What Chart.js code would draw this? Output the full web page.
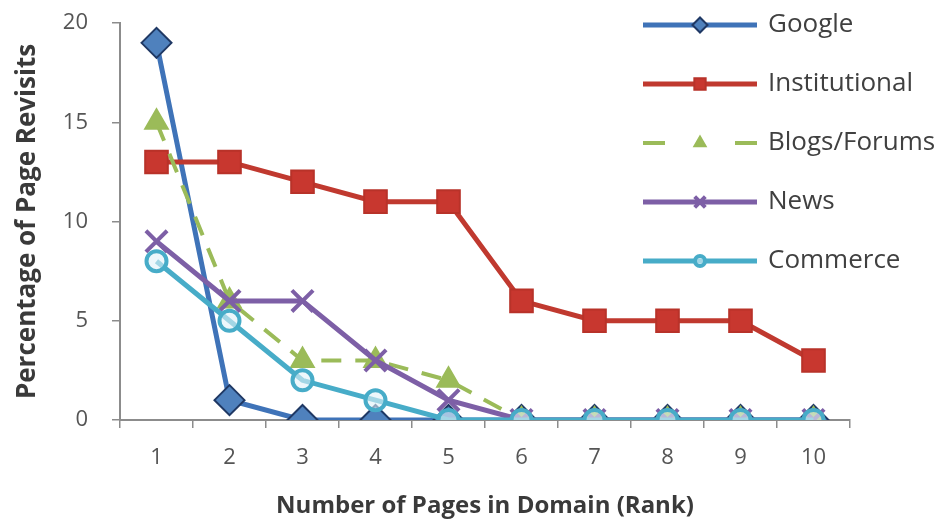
<!DOCTYPE html>
<html>
<head>
<meta charset="utf-8">
<script src="https://cdn.jsdelivr.net/npm/chart.js@4/dist/chart.umd.min.js"></script>
<style>
  html, body { margin: 0; padding: 0; background: #fff; }
  #wrap { width: 945px; height: 524px; position: relative; }
</style>
</head>
<body>
<div id="wrap"><canvas id="c" width="945" height="524"></canvas></div>
<script>
// Rank of page within its domain
const ranks = ['1', '2', '3', '4', '5', '6', '7', '8', '9', '10'];

// Percentage of page revisits per domain type
const google        = [19, 1, 0, 0, 0, 0, 0, 0, 0, 0];
const institutional = [13, 13, 12, 11, 11, 6, 5, 5, 5, 3];
const blogsForums   = [15, 6, 3, 3, 2, 0, 0, 0, 0, 0];
const news          = [9, 6, 6, 3, 1, 0, 0, 0, 0, 0];
const commerce      = [8, 5, 2, 1, 0, 0, 0, 0, 0, 0];

const yTicks = [0, 5, 10, 15, 20];

const FONT = '"Open Sans", Lato, sans-serif';
const AXIS_GREY = '#8c8c8c';

// Legend drawn in the upper right, each entry as a line with its marker
const sideLegend = {
  id: 'sideLegend',
  afterDraw(chart) {
    const ctx = chart.ctx;
    const x0 = 643, x1 = 757, top = 25, step = 59;
    chart.data.datasets.forEach((ds, i) => {
      const y = top + i * step;
      ctx.save();
      ctx.strokeStyle = ds.borderColor;
      ctx.lineWidth = ds.borderWidth;
      ctx.beginPath();
      if (ds.borderDash) {
        // dash - marker - dash
        ctx.moveTo(x0, y); ctx.lineTo(x0 + 22, y);
        ctx.moveTo(x1 - 22, y); ctx.lineTo(x1, y);
      } else {
        ctx.moveTo(x0, y); ctx.lineTo(x1, y);
      }
      ctx.stroke();
      const opts = {
        pointStyle: ds.pointStyle,
        radius: ds.pointRadius * 0.5,
        rotation: 0,
        borderWidth: ds.pointBorderWidth
      };
      ctx.fillStyle = ds.pointBackgroundColor;
      ctx.strokeStyle = ds.pointBorderColor;
      ctx.lineWidth = ds.pointBorderWidth;
      Chart.helpers.drawPoint(ctx, opts, (x0 + x1) / 2, y);
      ctx.fillStyle = '#404040';
      ctx.font = '26px ' + FONT;
      ctx.textBaseline = 'middle';
      ctx.textAlign = 'left';
      ctx.fillText(ds.label, 768, y);
      ctx.restore();
    });
  }
};

const n = 5;
function series(label, data, color, style, extra) {
  return Object.assign({
    label: label,
    data: data,
    borderColor: color,
    backgroundColor: color,
    borderWidth: 5,
    pointStyle: style,
    pointRadius: 11,
    pointHoverRadius: 11,
    pointBackgroundColor: color,
    pointBorderColor: color,
    pointBorderWidth: 2,
    tension: 0,
    fill: false
  }, extra || {});
}

const datasets = [
  series('Google', google, '#3f73b8', 'rectRot', {
    pointBackgroundColor: '#4f81bd', pointBorderColor: '#1f3864', pointRadius: 15
  }),
  series('Institutional', institutional, '#c0392f', 'rect', {
    pointBackgroundColor: '#c8372f', pointBorderColor: '#b83229', pointRadius: 16
  }),
  series('Blogs/Forums', blogsForums, '#9bbb59', 'triangle', {
    borderDash: [20, 14], borderWidth: 4, pointRadius: 13
  }),
  series('News', news, '#7d5fa6', 'crossRot', {
    pointBorderWidth: 4, pointRadius: 15
  }),
  series('Commerce', commerce, '#47acc8', 'circle', {
    pointBackgroundColor: 'rgba(225,242,248,0.6)', pointBorderWidth: 4, pointRadius: 10
  })
];
// later series are painted over earlier ones
datasets.forEach((d, i) => { d.order = n - i; });

new Chart(document.getElementById('c'), {
  type: 'line',
  data: { labels: ranks, datasets: datasets },
  plugins: [sideLegend],
  options: {
    responsive: false,
    animation: false,
    events: [],
    layout: { padding: { top: 23, right: 95, left: 0, bottom: 0 } },
    plugins: {
      legend: { display: false },
      tooltip: { enabled: false }
    },
    scales: {
      x: {
        type: 'category',
        offset: true,
        grid: {
          offset: true,
          drawOnChartArea: false,
          drawTicks: true,
          tickLength: 8,
          color: AXIS_GREY,
          lineWidth: 1.5
        },
        border: { color: AXIS_GREY, width: 2 },
        ticks: {
          color: '#555555',
          font: { family: FONT, size: 22 },
          padding: 17
        },
        title: {
          display: true,
          text: 'Number of Pages in Domain (Rank)',
          color: '#3a3a3a',
          font: { family: FONT, size: 24, weight: 'bold' },
          padding: { top: 6, bottom: 3 }
        },
        afterFit(scale) {
          scale.height = 104;
          scale.paddingLeft = 0;
          scale.paddingRight = 0;
        }
      },
      y: {
        min: 0,
        max: 20,
        afterBuildTicks(scale) { scale.ticks = yTicks.map(v => ({ value: v })); },
        grid: {
          drawOnChartArea: false,
          drawTicks: true,
          tickLength: 8,
          color: AXIS_GREY,
          lineWidth: 1.5
        },
        border: { color: AXIS_GREY, width: 2 },
        ticks: {
          color: '#555555',
          font: { family: FONT, size: 22 },
          padding: 24
        },
        title: {
          display: true,
          text: 'Percentage of Page Revisits',
          color: '#3a3a3a',
          font: { family: FONT, size: 26, weight: 'bold' },
          padding: { top: 12, bottom: 0 }
        },
        afterFit(scale) {
          scale.width = 120;
          scale.paddingTop = 0;
          scale.paddingBottom = 0;
        }
      }
    }
  }
});
</script>
</body>
</html>
